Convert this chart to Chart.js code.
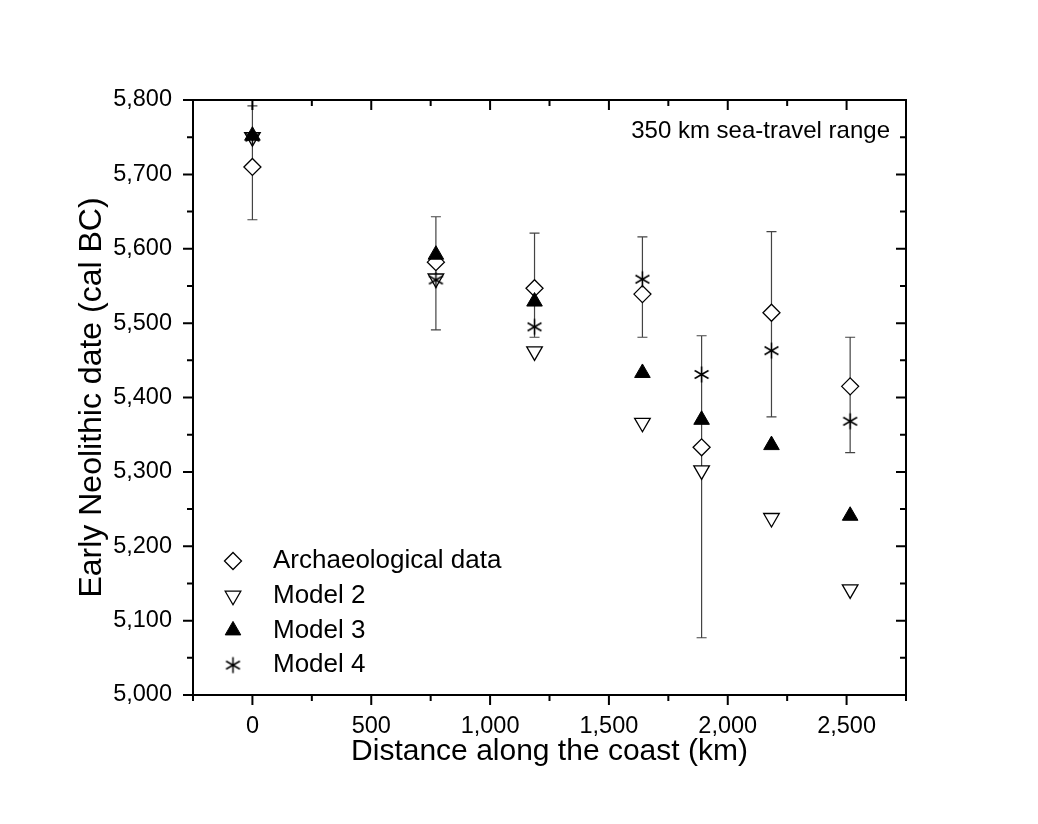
<!DOCTYPE html>
<html>
<head>
<meta charset="utf-8">
<script src="https://cdn.jsdelivr.net/npm/chart.js@4.4.1/dist/chart.umd.min.js"></script>
<style>
  body { margin: 0; background: #fff; }
  #wrap { width: 1038px; height: 824px; }
</style>
</head>
<body>
<div id="wrap"><canvas id="chart"></canvas></div>
<script>
// distance along the coast (km) for each site group
const distance = [0, 772, 1187, 1641, 1890, 2184, 2515];

// archaeological dates (cal BC) with error range
const archaeo  = [5710, 5582, 5547, 5539, 5333, 5514, 5415];
const archLow  = [5639, 5491, 5481, 5481, 5077, 5374, 5326];
const archHigh = [5792, 5643, 5621, 5616, 5483, 5623, 5481];

// model outputs
const model2 = [5750, 5560, 5462, 5366, 5302, 5238, 5142];
const model3 = [5752, 5592, 5529, 5433, 5370, 5336, 5241];
const model4 = [5750, 5558, 5495, 5559, 5431, 5463, 5368];

const seriesLabels = ['Archaeological data', 'Model 2', 'Model 3', 'Model 4'];
const rangeNote = '350 km sea-travel range';
const xTitle = 'Distance along the coast (km)';
const yTitle = 'Early Neolithic date (cal BC)';

const FONT = "'Liberation Sans', Arial, sans-serif";

// 6-armed asterisk like the original plotting program's "star"
function makeAsterisk(r) {
  const c = document.createElement('canvas');
  const s = Math.ceil(r * 2 + 3);
  c.width = c.height = s;
  const g = c.getContext('2d');
  const m = s / 2;
  g.strokeStyle = '#000';
  g.lineWidth = 1.5;
  [90, 30, -30].forEach(deg => {
    const a = deg * Math.PI / 180;
    g.beginPath();
    g.moveTo(m - r * Math.cos(a), m - r * Math.sin(a));
    g.lineTo(m + r * Math.cos(a), m + r * Math.sin(a));
    g.stroke();
  });
  g.fillStyle = '#000';
  g.beginPath();
  g.arc(m, m, 1.7, 0, Math.PI * 2);
  g.fill();
  return c;
}

const points = vals => vals.map((v, i) => ({ x: distance[i], y: v }));

const errorBars = {
  id: 'errorBars',
  beforeDatasetsDraw(chart) {
    const { ctx, scales: { x, y } } = chart;
    ctx.save();
    ctx.strokeStyle = '#444';
    ctx.lineWidth = 1.2;
    distance.forEach((d, i) => {
      const px = x.getPixelForValue(d);
      const top = y.getPixelForValue(archHigh[i]);
      const bot = y.getPixelForValue(archLow[i]);
      ctx.beginPath();
      ctx.moveTo(px, top); ctx.lineTo(px, bot);
      ctx.moveTo(px - 5, top); ctx.lineTo(px + 5, top);
      ctx.moveTo(px - 5, bot); ctx.lineTo(px + 5, bot);
      ctx.stroke();
    });
    ctx.restore();
  }
};

// box frame + major/minor ticks on all four sides
const frame = {
  id: 'frame',
  afterDraw(chart) {
    const { ctx, chartArea: a, scales: { x, y } } = chart;
    ctx.save();
    ctx.strokeStyle = '#000';
    ctx.lineWidth = 2;
    ctx.strokeRect(a.left, a.top, a.right - a.left, a.bottom - a.top);
    ctx.beginPath();
    x.ticks.forEach(t => {
      const px = x.getPixelForValue(t.value);
      const len = t.value % 500 === 0 ? 10 : 6;
      ctx.moveTo(px, a.bottom); ctx.lineTo(px, a.bottom + len);
      ctx.moveTo(px, a.top); ctx.lineTo(px, a.top + len);
    });
    y.ticks.forEach(t => {
      const py = y.getPixelForValue(t.value);
      const len = t.value % 100 === 0 ? 10 : 6;
      ctx.moveTo(a.left, py); ctx.lineTo(a.left - len, py);
      ctx.moveTo(a.right, py); ctx.lineTo(a.right - len, py);
    });
    ctx.stroke();
    ctx.restore();
  }
};

const legendBox = {
  id: 'legendBox',
  afterDraw(chart) {
    const { ctx, chartArea: a } = chart;
    ctx.save();
    ctx.textBaseline = 'middle';
    chart.data.datasets.forEach((ds, i) => {
      const yy = a.bottom - 134 + i * 34.7;
      ctx.strokeStyle = ds.borderColor;
      ctx.fillStyle = ds.backgroundColor;
      ctx.lineWidth = ds.borderWidth;
      Chart.helpers.drawPoint(ctx, {
        pointStyle: ds.pointStyle,
        rotation: ds.pointRotation || 0,
        radius: ds.pointRadius,
        borderWidth: ds.borderWidth
      }, a.left + 40, yy);
      ctx.fillStyle = '#000';
      ctx.font = `26px ${FONT}`;
      ctx.textAlign = 'left';
      ctx.fillText(ds.label, a.left + 80, yy);
    });
    ctx.font = `24px ${FONT}`;
    ctx.textAlign = 'right';
    ctx.fillStyle = '#000';
    ctx.fillText(rangeNote, a.right - 16, a.top + 31);
    ctx.restore();
  }
};

new Chart(document.getElementById('chart'), {
  type: 'scatter',
  data: {
    datasets: [
      {
        label: seriesLabels[0], data: points(archaeo), order: 4,
        pointStyle: 'rectRot', pointRadius: 8.5,
        borderColor: '#000', backgroundColor: '#fff', borderWidth: 1.3
      },
      {
        label: seriesLabels[1], data: points(model2), order: 3,
        pointStyle: 'triangle', pointRotation: 180, pointRadius: 9,
        borderColor: '#000', backgroundColor: '#fff', borderWidth: 1.3
      },
      {
        label: seriesLabels[2], data: points(model3), order: 2,
        pointStyle: 'triangle', pointRadius: 9,
        borderColor: '#000', backgroundColor: '#000', borderWidth: 1
      },
      {
        label: seriesLabels[3], data: points(model4), order: 1,
        pointStyle: makeAsterisk(8), pointRadius: 8,
        borderColor: '#000', backgroundColor: '#000', borderWidth: 1
      }
    ]
  },
  options: {
    responsive: true,
    maintainAspectRatio: false,
    animation: false,
    events: [],
    layout: { padding: { left: 73, right: 132, top: 100, bottom: 54 } },
    plugins: {
      legend: { display: false },
      tooltip: { enabled: false }
    },
    scales: {
      x: {
        type: 'linear', min: -250, max: 2750,
        afterFit: s => { s.height = 75; },
        grid: { display: false, drawTicks: false },
        border: { display: false },
        ticks: {
          stepSize: 250, autoSkip: false, maxRotation: 0, padding: 17,
          color: '#000', font: { family: FONT, size: 23.5 },
          callback: v => (v % 500 === 0 && v >= 0 && v <= 2500) ? v.toLocaleString('en-US') : ''
        },
        title: { display: true, text: xTitle, color: '#000', padding: 0, font: { family: FONT, size: 30 } }
      },
      y: {
        type: 'linear', min: 5000, max: 5800,
        afterFit: s => { s.width = 120; },
        grid: { display: false, drawTicks: false },
        border: { display: false },
        ticks: {
          stepSize: 50, autoSkip: false, padding: 21,
          color: '#000', font: { family: FONT, size: 23.5 },
          callback: v => v % 100 === 0 ? v.toLocaleString('en-US') : ''
        },
        title: { display: true, text: yTitle, color: '#000', padding: 0, font: { family: FONT, size: 32 } }
      }
    }
  },
  plugins: [errorBars, frame, legendBox]
});
</script>
</body>
</html>
